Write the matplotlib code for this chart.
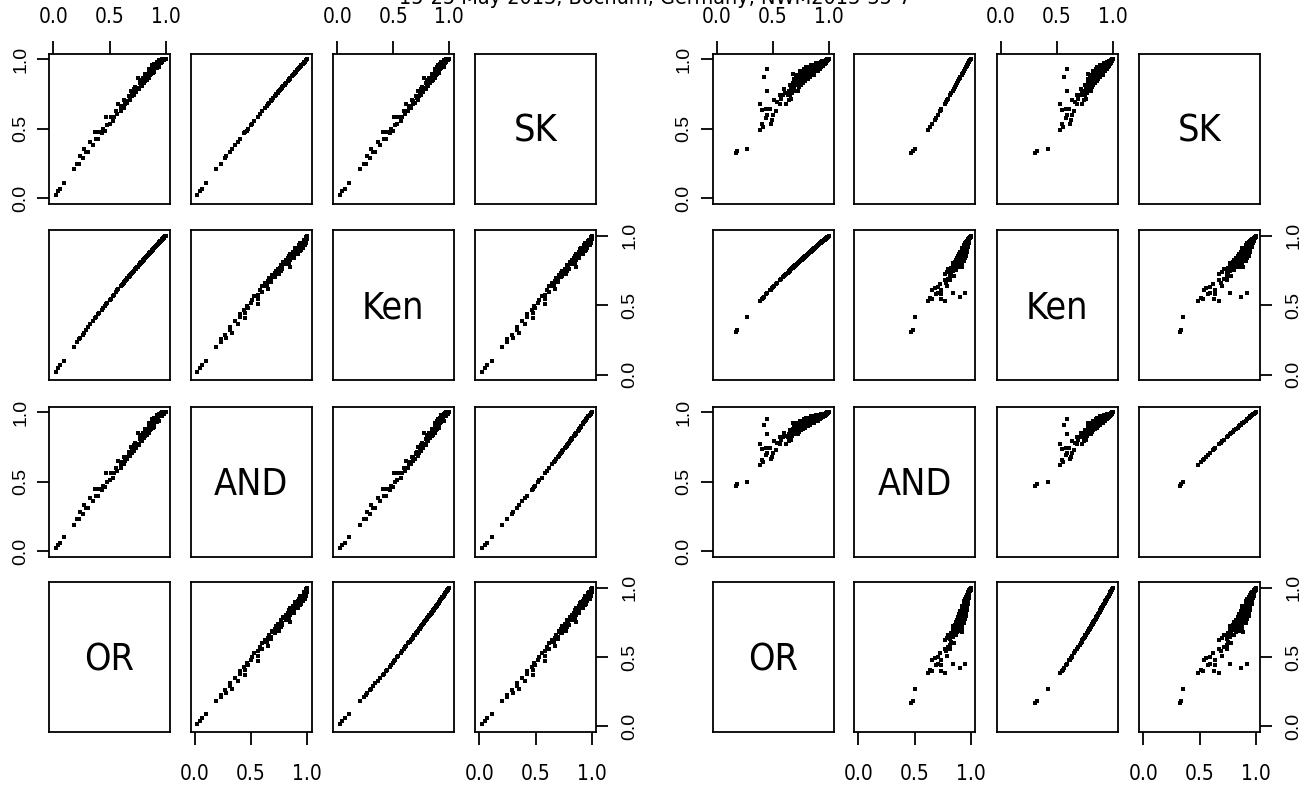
import matplotlib
matplotlib.use('Agg')
import matplotlib.pyplot as plt
from matplotlib import font_manager
from matplotlib.font_manager import FontProperties

# ---- data: left block (one entry per observation: OR, AND, Ken, SK)
or_l = [0.02, 0.04, 0.06, 0.09, 0.18, 0.21, 0.23, 0.24, 0.26, 0.27, 0.29, 0.31,
        0.33, 0.35, 0.37, 0.38, 0.40, 0.41, 0.43, 0.44, 0.46, 0.47, 0.48, 0.50,
        0.51, 0.53, 0.54, 0.56, 0.57, 0.58, 0.60, 0.61, 0.62, 0.63, 0.64, 0.66,
        0.67, 0.68, 0.69, 0.70, 0.71, 0.72, 0.73, 0.74, 0.75, 0.76, 0.77, 0.78,
        0.79, 0.80, 0.81, 0.82, 0.82, 0.83, 0.84, 0.85, 0.85, 0.86, 0.87, 0.87,
        0.88, 0.89, 0.89, 0.90, 0.90, 0.91, 0.91, 0.92, 0.92, 0.93, 0.93, 0.94,
        0.94, 0.95, 0.95, 0.96, 0.96, 0.97, 0.97, 0.98, 0.98, 0.99, 0.99, 1.00,
        0.605, 0.625, 0.645, 0.655, 0.675, 0.685, 0.705, 0.715, 0.735, 0.745, 0.765, 0.775,
        0.785, 0.795, 0.805, 0.815, 0.825, 0.835, 0.845, 0.855, 0.865, 0.875, 0.885, 0.895,
        0.905, 0.915, 0.925, 0.935, 0.945, 0.955, 0.965, 0.975, 0.985, 0.995,
        0.86, 0.88, 0.90, 0.92, 0.94, 0.96]
and_l = [0.02, 0.045, 0.06, 0.10, 0.19, 0.23, 0.23, 0.28, 0.27, 0.33, 0.31, 0.31,
         0.38, 0.36, 0.45, 0.40, 0.40, 0.45, 0.44, 0.47, 0.46, 0.56, 0.50, 0.51,
         0.56, 0.53, 0.56, 0.60, 0.58, 0.65, 0.60, 0.64, 0.64, 0.68, 0.65, 0.66,
         0.71, 0.70, 0.75, 0.71, 0.74, 0.72, 0.78, 0.76, 0.85, 0.77, 0.81, 0.80,
         0.79, 0.85, 0.84, 0.83, 0.88, 0.85, 0.88, 0.85, 0.92, 0.89, 0.88, 0.92,
         0.90, 0.93, 0.89, 0.96, 0.92, 0.94, 0.96, 0.93, 0.96, 0.95, 0.98, 0.97,
         0.94, 0.99, 0.97, 0.99, 0.97, 0.99, 1.00, 0.99, 1.00, 0.99, 1.00, 1.00,
         0.625, 0.625, 0.675, 0.665, 0.715, 0.685, 0.725, 0.765, 0.745, 0.775, 0.765, 0.835,
         0.805, 0.835, 0.815, 0.845, 0.875, 0.835, 0.865, 0.895, 0.875, 0.935, 0.915, 0.895,
         0.945, 0.935, 0.975, 0.945, 0.975, 0.975, 0.975, 0.995, 0.995, 1.00,
         0.92, 0.95, 0.94, 0.98, 0.99, 0.995]
ken_l = [0.023, 0.046, 0.068, 0.102, 0.202, 0.235, 0.257, 0.267, 0.289, 0.300, 0.321, 0.342,
         0.363, 0.384, 0.405, 0.415, 0.436, 0.446, 0.467, 0.477, 0.497, 0.507, 0.517, 0.538,
         0.547, 0.567, 0.577, 0.597, 0.607, 0.617, 0.636, 0.646, 0.655, 0.665, 0.675, 0.694,
         0.703, 0.713, 0.722, 0.732, 0.741, 0.750, 0.760, 0.769, 0.778, 0.787, 0.797, 0.806,
         0.815, 0.824, 0.833, 0.842, 0.842, 0.851, 0.860, 0.869, 0.869, 0.878, 0.887, 0.887,
         0.896, 0.905, 0.905, 0.914, 0.914, 0.922, 0.922, 0.931, 0.931, 0.940, 0.940, 0.949,
         0.949, 0.957, 0.957, 0.966, 0.966, 0.974, 0.974, 0.983, 0.983, 0.991, 0.991, 1.000,
         0.641, 0.660, 0.679, 0.689, 0.708, 0.717, 0.736, 0.746, 0.764, 0.774, 0.792, 0.801,
         0.810, 0.819, 0.829, 0.838, 0.847, 0.856, 0.865, 0.874, 0.883, 0.891, 0.900, 0.909,
         0.918, 0.927, 0.935, 0.944, 0.953, 0.961, 0.970, 0.979, 0.987, 0.996,
         0.878, 0.896, 0.914, 0.931, 0.949, 0.966]
sk_l = [0.022, 0.049, 0.066, 0.109, 0.205, 0.248, 0.248, 0.300, 0.290, 0.352, 0.331, 0.331,
        0.404, 0.383, 0.475, 0.424, 0.424, 0.475, 0.465, 0.495, 0.485, 0.585, 0.525, 0.535,
        0.585, 0.555, 0.585, 0.624, 0.604, 0.673, 0.624, 0.663, 0.663, 0.702, 0.673, 0.682,
        0.731, 0.721, 0.769, 0.731, 0.759, 0.740, 0.797, 0.778, 0.863, 0.788, 0.825, 0.816,
        0.807, 0.863, 0.853, 0.844, 0.891, 0.863, 0.891, 0.863, 0.927, 0.900, 0.891, 0.927,
        0.909, 0.937, 0.900, 0.964, 0.927, 0.946, 0.964, 0.937, 0.964, 0.955, 0.982, 0.973,
        0.946, 0.991, 0.973, 0.991, 0.973, 0.991, 1.000, 0.991, 1.000, 0.991, 1.000, 1.000,
        0.648, 0.648, 0.697, 0.687, 0.735, 0.707, 0.745, 0.783, 0.764, 0.792, 0.783, 0.849,
        0.821, 0.849, 0.830, 0.858, 0.886, 0.849, 0.877, 0.904, 0.886, 0.941, 0.923, 0.904,
        0.950, 0.941, 0.977, 0.950, 0.977, 0.977, 0.977, 0.995, 0.995, 1.000,
        0.927, 0.955, 0.946, 0.982, 0.991, 0.995]

# ---- data: right block
or_r = [0.17, 0.18, 0.27, 0.385, 0.40, 0.41, 0.385, 0.40, 0.44, 0.475, 0.51, 0.45,
        0.44, 0.49, 0.53, 0.56, 0.59, 0.56, 0.62, 0.63, 0.66, 0.68, 0.71, 0.71,
        0.72, 0.45, 0.42, 0.45, 0.48, 0.50, 0.54, 0.60,
        0.65, 0.66, 0.67, 0.68, 0.69, 0.70, 0.70, 0.71, 0.72, 0.73, 0.74, 0.75,
        0.75, 0.76, 0.77, 0.78, 0.78, 0.79, 0.80, 0.80, 0.81, 0.82, 0.82, 0.83,
        0.84, 0.84, 0.85, 0.85, 0.86, 0.87, 0.87, 0.88, 0.88, 0.89, 0.90, 0.90,
        0.91, 0.91, 0.92, 0.92, 0.93, 0.93, 0.94, 0.94, 0.95, 0.95, 0.96, 0.96,
        0.97, 0.97, 0.98, 0.98, 0.99, 0.99, 1.00,
        0.645, 0.655, 0.675, 0.685, 0.695, 0.705, 0.715, 0.725, 0.735, 0.745, 0.755, 0.765,
        0.775, 0.785, 0.795, 0.805, 0.815, 0.825, 0.835, 0.845, 0.855, 0.865, 0.875, 0.885,
        0.895, 0.905, 0.915, 0.925, 0.935, 0.945, 0.955, 0.965, 0.975, 0.985,
        0.57, 0.61, 0.64]
and_r = [0.47, 0.485, 0.50, 0.62, 0.655, 0.64, 0.77, 0.735, 0.74, 0.74, 0.79, 0.71,
         0.69, 0.68, 0.73, 0.82, 0.82, 0.77, 0.77, 0.82, 0.80, 0.925, 0.905, 0.88,
         0.84, 0.95, 0.91, 0.84, 0.66, 0.71, 0.78, 0.85,
         0.82, 0.86, 0.83, 0.88, 0.85, 0.90, 0.84, 0.87, 0.92, 0.86, 0.89, 0.87,
         0.93, 0.90, 0.88, 0.94, 0.91, 0.89, 0.92, 0.95, 0.90, 0.93, 0.96, 0.91,
         0.94, 0.92, 0.96, 0.93, 0.95, 0.92, 0.97, 0.94, 0.96, 0.95, 0.97, 0.94,
         0.96, 0.98, 0.95, 0.97, 0.98, 0.96, 0.97, 0.99, 0.98, 0.965, 0.985, 0.975,
         0.99, 0.98, 0.99, 0.995, 0.995, 1.00, 1.00,
         0.84, 0.87, 0.85, 0.90, 0.87, 0.92, 0.89, 0.87, 0.91, 0.94, 0.90, 0.92,
         0.95, 0.93, 0.96, 0.94, 0.92, 0.95, 0.97, 0.95, 0.94, 0.97, 0.96, 0.98,
         0.96, 0.98, 0.97, 0.985, 0.975, 0.99, 0.99, 0.985, 0.995, 1.00,
         0.80, 0.83, 0.79]
ken_r = [0.307, 0.319, 0.418, 0.529, 0.543, 0.552, 0.529, 0.543, 0.579, 0.609, 0.638, 0.587,
         0.579, 0.622, 0.655, 0.679, 0.703, 0.679, 0.727, 0.735, 0.758, 0.773, 0.796, 0.796,
         0.803, 0.587, 0.561, 0.587, 0.613, 0.630, 0.663, 0.711,
         0.750, 0.758, 0.766, 0.773, 0.781, 0.788, 0.788, 0.796, 0.803, 0.811, 0.818, 0.825,
         0.825, 0.833, 0.840, 0.847, 0.847, 0.855, 0.862, 0.862, 0.869, 0.876, 0.876, 0.883,
         0.890, 0.890, 0.897, 0.897, 0.904, 0.911, 0.911, 0.918, 0.918, 0.925, 0.932, 0.932,
         0.939, 0.939, 0.946, 0.946, 0.953, 0.953, 0.960, 0.960, 0.966, 0.966, 0.973, 0.973,
         0.980, 0.980, 0.987, 0.987, 0.993, 0.993, 1.000,
         0.747, 0.754, 0.769, 0.777, 0.785, 0.792, 0.800, 0.807, 0.814, 0.822, 0.829, 0.836,
         0.844, 0.851, 0.858, 0.865, 0.872, 0.880, 0.887, 0.894, 0.901, 0.908, 0.915, 0.922,
         0.929, 0.936, 0.943, 0.949, 0.956, 0.963, 0.970, 0.976, 0.983, 0.990,
         0.687, 0.719, 0.743]
sk_r = [0.322, 0.338, 0.354, 0.488, 0.530, 0.512, 0.676, 0.630, 0.637, 0.637, 0.702, 0.598,
        0.573, 0.561, 0.624, 0.743, 0.743, 0.676, 0.676, 0.743, 0.716, 0.890, 0.861, 0.826,
        0.770, 0.926, 0.868, 0.770, 0.536, 0.598, 0.689, 0.784,
        0.743, 0.798, 0.756, 0.826, 0.784, 0.854, 0.770, 0.811, 0.882, 0.798, 0.840, 0.811,
        0.897, 0.854, 0.826, 0.911, 0.868, 0.840, 0.882, 0.926, 0.854, 0.897, 0.941, 0.868,
        0.911, 0.882, 0.941, 0.897, 0.926, 0.882, 0.955, 0.911, 0.941, 0.926, 0.955, 0.911,
        0.941, 0.970, 0.926, 0.955, 0.970, 0.941, 0.955, 0.985, 0.970, 0.948, 0.978, 0.963,
        0.985, 0.970, 0.985, 0.993, 0.993, 1.000, 1.000,
        0.770, 0.811, 0.784, 0.854, 0.811, 0.882, 0.840, 0.811, 0.868, 0.911, 0.854, 0.882,
        0.926, 0.897, 0.941, 0.911, 0.882, 0.926, 0.955, 0.926, 0.911, 0.955, 0.941, 0.970,
        0.941, 0.970, 0.955, 0.978, 0.963, 0.985, 0.985, 0.978, 0.993, 1.000,
        0.716, 0.756, 0.702]

var_names = ['OR', 'AND', 'Ken', 'SK']
tick_vals = [0.0, 0.5, 1.0]
tick_text = ['0.0', '0.5', '1.0']
title = '15-25 May 2013, Bochum, Germany, NWM2013-35-7'

plt.rcParams['font.family'] = ['Liberation Sans', 'DejaVu Sans']

# horizontal text in the reference is condensed; use a narrow face if one is installed
narrow_path = None
for f in font_manager.fontManager.ttflist:
    if f.style != 'normal' or f.weight not in (400, 'normal', 'regular'):
        continue
    if 'Narrow' in f.name or 'Condensed' in f.name or f.stretch in ('condensed', 'semi-condensed'):
        if narrow_path is None or 'Liberation' in f.name:
            narrow_path = f.fname
narrow_scale = 1.0 if narrow_path else 0.85


def nfont(size):
    if narrow_path:
        return FontProperties(fname=narrow_path, size=size)
    return FontProperties(family='Liberation Sans', size=size * narrow_scale)


W, H = 1311, 787
fig = plt.figure(figsize=(W / 100, H / 100), dpi=100)

col_left = [49, 190.5, 332.7, 475]
col_right = [712.5, 854, 996.5, 1139]
row_top = [53.5, 230.3, 406.7, 582]
pw, ph = 121, 150


def pairs(cols, data):
    for r in range(4):
        for c in range(4):
            ax = fig.add_axes([cols[c] / W, 1 - (row_top[r] + ph) / H, pw / W, ph / H])
            ax.set_xlim(-0.04, 1.04)
            ax.set_ylim(-0.04, 1.04)
            for s in ax.spines.values():
                s.set_linewidth(1.3)
            yi = 3 - r
            if yi == c:
                ax.text(0.5, 0.41, var_names[c], transform=ax.transAxes, ha='center',
                        va='baseline', fontproperties=nfont(27))
            else:
                ax.scatter(data[c], data[yi], s=5, marker='s', c='black', linewidths=0)

            # x axis: top on cols 0,2 of first row, bottom on cols 1,3 of last row
            if r == 0 and c % 2 == 0:
                ax.set_xticks(tick_vals)
                ax.set_xticklabels(tick_text, fontproperties=nfont(15))
                ax.tick_params(axis='x', top=True, bottom=False, labeltop=True,
                               labelbottom=False, direction='out', length=9.4,
                               width=1.3, pad=9.5)
            elif r == 3 and c % 2 == 1:
                ax.set_xticks(tick_vals)
                ax.set_xticklabels(tick_text, fontproperties=nfont(15))
                ax.tick_params(axis='x', direction='out', length=9.4, width=1.3, pad=14)
            else:
                ax.set_xticks([])

            # y axis: left on rows 0,2 of first col, right on rows 1,3 of last col
            if c == 0 and r % 2 == 0:
                ax.set_yticks(tick_vals)
                ax.set_yticklabels(tick_text, fontsize=14, rotation=90, va='center')
                ax.tick_params(axis='y', direction='out', length=8.3, width=1.3, pad=6)
            elif c == 3 and r % 2 == 1:
                ax.set_yticks(tick_vals)
                ax.set_yticklabels(tick_text, fontsize=14, rotation=90, va='center')
                ax.tick_params(axis='y', left=False, right=True, labelleft=False,
                               labelright=True, direction='out', length=8.3,
                               width=1.3, pad=10)
            else:
                ax.set_yticks([])


pairs(col_left, [or_l, and_l, ken_l, sk_l])
pairs(col_right, [or_r, and_r, ken_r, sk_r])

# title sits mostly above the canvas, as in the reference
fig.text(0.5, 1 - 4 / H, title, ha='center', va='baseline', fontproperties=nfont(15.5))

fig.savefig('out.png', dpi=100)
